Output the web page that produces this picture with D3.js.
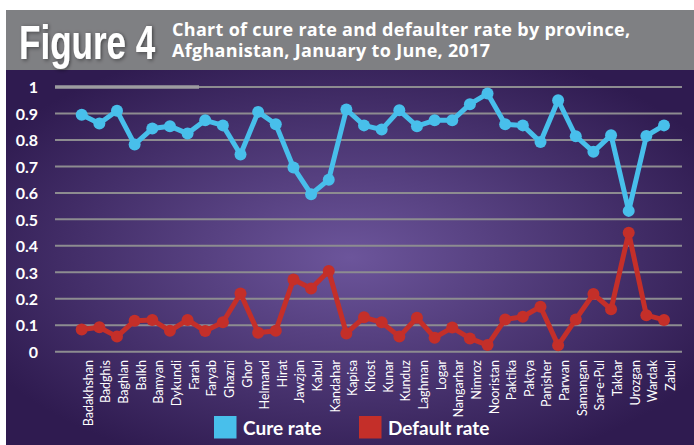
<!DOCTYPE html>
<html>
<head>
<meta charset="utf-8">
<script src="https://cdn.jsdelivr.net/npm/d3@7/dist/d3.min.js"></script>
<style>
  body { margin: 0; background: #fff; }
  #chart text { font-family: Lato, "Open Sans", sans-serif; fill: #fff; }
</style>
</head>
<body>
<div id="chart"></div>
<script>
// provinces along the x axis
var provinces = ['Badakhshan', 'Badghis', 'Baghlan', 'Balkh', 'Bamyan', 'Dykundi', 'Farah', 'Faryab',
  'Ghazni', 'Ghor', 'Helmand', 'Hirat', 'Jawzjan', 'Kabul', 'Kandahar', 'Kapisa', 'Khost', 'Kunar',
  'Kunduz', 'Laghman', 'Logar', 'Nangarhar', 'Nimroz', 'Nooristan', 'Paktika', 'Paktya', 'Panjsher',
  'Parwan', 'Samangan', 'Sar-e-Pul', 'Takhar', 'Urozgan', 'Wardak', 'Zabul'];

var cureRate = [0.895, 0.862, 0.91, 0.783, 0.843, 0.852, 0.824, 0.874,
  0.855, 0.745, 0.906, 0.859, 0.696, 0.595, 0.65, 0.915, 0.855, 0.839,
  0.912, 0.852, 0.874, 0.874, 0.935, 0.975, 0.859, 0.855, 0.792,
  0.95, 0.814, 0.755, 0.818, 0.532, 0.815, 0.855];

var defaultRate = [0.084, 0.092, 0.057, 0.117, 0.12, 0.079, 0.12, 0.078,
  0.111, 0.22, 0.072, 0.079, 0.273, 0.239, 0.305, 0.069, 0.13, 0.111,
  0.057, 0.128, 0.053, 0.091, 0.05, 0.025, 0.122, 0.132, 0.17,
  0.024, 0.122, 0.218, 0.16, 0.449, 0.138, 0.12];

var yTicks = [0, 0.1, 0.2, 0.3, 0.4, 0.5, 0.6, 0.7, 0.8, 0.9, 1];
var legendLabels = ['Cure rate', 'Default rate'];
var titleLines = ['Chart of cure rate and defaulter rate by province,', 'Afghanistan, January to June, 2017'];
var colors = ['#48bfeb', '#c42f29'];

var width = 694, height = 445;
var plot = { left: 55, right: 682, top: 87, bottom: 351.7 };

var svg = d3.select('#chart').append('svg')
  .attr('width', width)
  .attr('height', height);

var defs = svg.append('defs');
var grad = defs.append('radialGradient')
  .attr('id', 'bg')
  .attr('cx', '0.5').attr('cy', '0.5').attr('r', '0.6');
grad.append('stop').attr('offset', '0%').attr('stop-color', '#6c559b');
grad.append('stop').attr('offset', '100%').attr('stop-color', '#2f1b50');

var shadow = defs.append('filter').attr('id', 'shadow')
  .attr('x', '-10%').attr('y', '-10%').attr('width', '130%').attr('height', '130%');
shadow.append('feDropShadow')
  .attr('dx', 2).attr('dy', 1).attr('stdDeviation', 2)
  .attr('flood-color', '#000').attr('flood-opacity', 0.45);

// backgrounds
svg.append('rect')
  .attr('x', 6).attr('y', 70)
  .attr('width', width - 6).attr('height', height - 70)
  .attr('fill', 'url(#bg)');
svg.append('rect')
  .attr('x', 6).attr('y', 10)
  .attr('width', width - 6).attr('height', 60)
  .attr('fill', '#7f8083');

// header
svg.append('text')
  .attr('transform', 'translate(19,59) scale(0.73,1)')
  .attr('filter', 'url(#shadow)')
  .style('font-family', '"Liberation Sans", Arial, sans-serif')
  .style('font-weight', 'bold')
  .style('font-size', '48px')
  .text('Figure 4');
// two-line title kept in one text element
svg.append('text')
  .attr('y', 36)
  .style('font-family', '"Open Sans", sans-serif')
  .style('font-weight', 'bold')
  .style('font-size', '18px')
  .style('letter-spacing', '0.3px')
  .selectAll('tspan')
  .data(titleLines)
  .enter()
  .append('tspan')
  .attr('x', 172)
  .attr('dy', function(d, i){ return i === 0 ? 0 : 20.5; })
  .text(function(d){ return d; });

// scales
var xScale = d3.scalePoint()
  .domain(provinces)
  .range([81.7, 664]);
var yScale = d3.scaleLinear()
  .domain([0, 1])
  .range([plot.bottom, plot.top]);

// grid lines
svg.append('g')
  .selectAll('line')
  .data(yTicks)
  .enter()
  .append('line')
  .attr('x1', plot.left)
  .attr('x2', plot.right)
  .attr('y1', function(d){ return yScale(d); })
  .attr('y2', function(d){ return yScale(d); })
  .attr('stroke', '#8d8c90')
  .attr('stroke-width', 2);
// the heavier piece on the top line
svg.append('line')
  .attr('x1', plot.left)
  .attr('x2', plot.left + 144)
  .attr('y1', yScale(1))
  .attr('y2', yScale(1))
  .attr('stroke', '#9d9ca0')
  .attr('stroke-width', 3.5);

// y axis labels
var yAxis = d3.axisLeft(yScale)
  .tickValues(yTicks)
  .tickSize(0)
  .tickPadding(0)
  .tickFormat(function(d){ return String(d); });
var gy = svg.append('g')
  .attr('transform', 'translate(38,0)')
  .call(yAxis);
gy.select('.domain').remove();
gy.selectAll('text')
  .attr('dy', '0.36em')
  .style('font-size', '16px')
  .style('font-weight', 'bold')
  .attr('fill', '#fff');

// x axis labels
var xAxis = d3.axisBottom(xScale).tickSize(0).tickPadding(0);
var gx = svg.append('g')
  .attr('transform', 'translate(0,360)')
  .call(xAxis);
gx.select('.domain').remove();
gx.selectAll('text')
  .attr('transform', 'rotate(-90)')
  .attr('x', 0)
  .attr('y', 0)
  .attr('dy', '10.5px')
  .attr('text-anchor', 'end')
  .style('font-size', '12.5px')
  .attr('fill', '#f2f0f6');

// series
var series = [cureRate, defaultRate];
var linePath = d3.line()
  .x(function(d, i){ return xScale(provinces[i]); })
  .y(function(d){ return yScale(d); });

series.forEach(function(values, k){
  svg.append('path')
    .attr('d', linePath(values))
    .attr('fill', 'none')
    .attr('stroke', colors[k])
    .attr('stroke-width', 5)
    .attr('stroke-linejoin', 'round');
  svg.append('g')
    .selectAll('circle')
    .data(values)
    .enter()
    .append('circle')
    .attr('cx', function(d, i){ return xScale(provinces[i]); })
    .attr('cy', function(d){ return yScale(d); })
    .attr('r', 6)
    .attr('fill', colors[k]);
});

// legend
var legendX = [214, 359];
var legend = svg.append('g')
  .selectAll('g')
  .data(legendLabels)
  .enter()
  .append('g')
  .attr('transform', function(d, i){ return 'translate(' + legendX[i] + ',416)'; });
legend.append('rect')
  .attr('width', 22.5)
  .attr('height', 22.5)
  .attr('fill', function(d, i){ return colors[i]; });
legend.append('text')
  .attr('x', 29)
  .attr('y', 18.5)
  .style('font-size', '19px')
  .style('font-weight', 'bold')
  .text(function(d){ return d; });
</script>
</body>
</html>
